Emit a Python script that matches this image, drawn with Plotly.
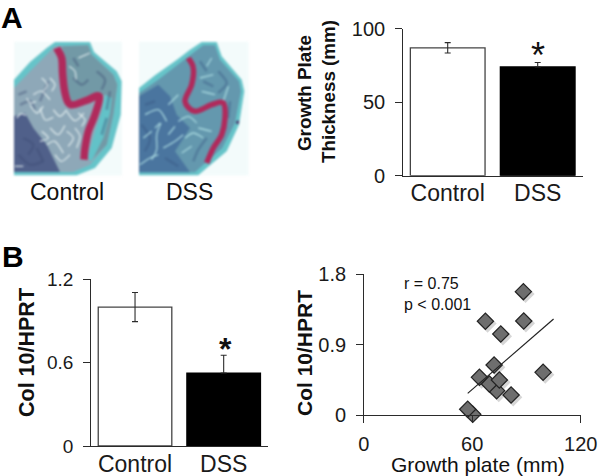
import plotly.graph_objects as go

W, H = 598, 476
FONT = "Liberation Sans"
INK = "#2b2b2b"

# ---- data ----
bar_categories = ["Control", "DSS"]
thickness_values = [87, 74]
thickness_err_up = [3.5, 3]
thickness_err_down = [3.5, 0]
thickness_ticks = [0, 50, 100]
col10_values = [1.0, 0.525]
col10_err_up = [0.105, 0.128]
col10_err_down = [0.105, 0]
col10_ticks = [0, 0.6, 1.2]
col10_ticklabels = ["0", "0.6", "1.2"]

scatter_x = [60.3, 57.5, 81.5, 73.5, 69.5, 75, 64, 72.1, 99.2, 75.8, 67.3, 88.5, 88.3]
scatter_y = [0.009, 0.073, 0.256, 0.311, 0.397, 0.448, 0.482, 0.64, 0.546, 1.036, 1.199, 1.203, 1.578]
fit_x = [57.5, 105]
fit_y = [0.277, 1.228]
scatter_x_ticks = [0, 60, 120]
scatter_y_ticks = [0, 0.9, 1.8]
scatter_y_ticklabels = ["0", "0.9", "1.8"]

# ---- histology illustration outlines (crop coordinates of each photo) ----
photo_a_outline = [(12,125),(60,72),(110,30),(135,12),(240,12),(252,42),(320,100),(335,130),(332,230),(305,330),(255,390),(200,412),(12,412)]
photo_a_inner = [(12,150),(70,90),(135,25),(235,22),(245,50),(310,110),(322,140),(310,230),(290,320),(240,380),(190,402),(12,402)]
photo_a_marrow = [(12,235),(45,225),(70,270),(110,320),(150,402),(12,402)]
photo_a_epi = [(155,25),(235,22),(245,50),(310,110),(322,140),(310,230),(290,320),(245,365),(262,260),(290,170),(230,175),(185,190),(170,150),(165,60)]
photo_a_gap = [(285,170),(305,180),(300,225),(280,300),(245,370),(232,360),(255,280),(275,220)]
photo_a_band = [(140,30),(155,60),(158,110),(165,165),(182,200),(230,187),(268,175),(255,230),(235,280),(225,330),(222,365)]
photo_a_light = [[(20,240),(32,228),(48,232)], [(15,385),(40,385)], [(178,85),(195,100),(198,125)], [(205,60),(240,45)],
                 [(90,210),(105,245),(130,238)], [(120,270),(145,290),(165,262)], [(70,170),(95,160),(120,185)],
                 [(110,320),(135,310),(160,345)], [(170,220),(195,248),(222,225)], [(60,200),(80,225),(100,205)],
                 [(130,215),(150,235),(170,215)], [(95,280),(115,300),(90,310)], [(170,280),(190,300),(175,325)],
                 [(195,270),(210,295),(200,330)], [(135,350),(155,370),(180,350)], [(50,180),(60,195),(78,190)],
                 [(120,120),(135,140),(125,160)], [(95,120),(112,140),(100,160)], [(205,225),(225,245),(215,265)]]
photo_a_dark = [[(30,200),(60,190),(75,215)], [(25,170),(50,160)], [(40,300),(70,320),(55,350)], [(25,350),(60,380),(100,370)],
                [(190,120),(215,140),(235,125)], [(260,100),(285,125),(275,155)], [(190,60),(205,85)], [(300,160),(290,215)],
                [(290,240),(275,290)], [(80,330),(100,370)], [(115,130),(90,190)]]

photo_b_outline = [(12,150),(60,112),(130,62),(165,35),(200,12),(245,12),(260,55),(320,125),(328,160),(312,260),(275,340),(215,390),(190,412),(12,412)]
photo_b_inner = [(12,165),(70,125),(135,75),(170,48),(205,22),(240,22),(255,65),(312,130),(318,160),(300,255),(262,330),(205,380),(180,403),(12,403)]
photo_b_marrow = [(12,175),(70,140),(105,175),(125,230),(165,270),(120,340),(165,403),(12,403)]
photo_b_band = [(160,60),(175,90),(170,140),(150,190),(180,220),(230,200),(265,195),(270,240),(260,290),(235,330),(215,375)]
photo_b_light = [[(50,365),(65,335),(65,290),(78,255)], [(15,380),(45,360),(70,350)], [(60,270),(75,255)],
                 [(85,330),(120,310),(145,290)], [(30,230),(70,215),(95,250)], [(195,120),(235,110)],
                 [(200,160),(240,170)], [(190,270),(230,280)], [(100,200),(130,170)], [(130,250),(160,235),(185,255)],
                 [(150,300),(175,285),(205,300)], [(100,290),(120,265)], [(230,60),(215,85)], [(280,145),(265,190)],
                 [(25,300),(50,280)], [(140,345),(170,325)]]
photo_b_dark = [[(30,200),(60,190)], [(20,260),(45,300),(30,340)], [(90,360),(130,385)], [(195,70),(215,100)],
                [(250,100),(275,135),(250,165)], [(205,130),(235,145)], [(285,190),(280,240)], [(215,300),(190,335),(175,370)]]
photo_b_spot = [(303,250),(312,247),(312,257),(304,258)]

P = 3.0
def spline(points, ox, oy, closed):
    pts = [(ox + x / P, oy + y / P) for x, y in points]
    n = len(pts)
    d = f"M {pts[0][0]:.1f},{pts[0][1]:.1f}"
    segs = n if closed else n - 1
    for i in range(segs):
        get = (lambda k: pts[k % n]) if closed else (lambda k: pts[max(0, min(n - 1, k))])
        p0, p1, p2, p3 = get(i - 1), get(i), get(i + 1), get(i + 2)
        c1 = (p1[0] + (p2[0] - p0[0]) / 6, p1[1] + (p2[1] - p0[1]) / 6)
        c2 = (p2[0] - (p3[0] - p1[0]) / 6, p2[1] - (p3[1] - p1[1]) / 6)
        d += f" C {c1[0]:.1f},{c1[1]:.1f} {c2[0]:.1f},{c2[1]:.1f} {p2[0]:.1f},{p2[1]:.1f}"
    return d + (" Z" if closed else "")

def straight(points, ox, oy):
    return "M " + " L ".join(f"{ox + x / P:.1f},{oy + y / P:.1f}" for x, y in points) + " Z"

shapes = []
def poly(points, ox, oy, fill, curved=False):
    path = spline(points, ox, oy, True) if curved else straight(points, ox, oy)
    shapes.append(dict(type="path", path=path, fillcolor=fill, line=dict(width=0), xref="x5", yref="y5", layer="below"))
def stroke(points, ox, oy, color, width):
    shapes.append(dict(type="path", path=spline(points, ox, oy, False), line=dict(color=color, width=width),
                       xref="x5", yref="y5", layer="below"))
def rect(x0, y0, x1, y1, fill):
    shapes.append(dict(type="rect", x0=x0, y0=y0, x1=x1, y1=y1, fillcolor=fill, line=dict(width=0),
                       xref="x5", yref="y5", layer="below"))

# Photo A
oxa, oya = 10, 38
rect(14.3, 41.7, 122, 175.5, "#f3fbfb")
poly(photo_a_outline, oxa, oya, "#66c4c9")
poly(photo_a_inner, oxa, oya, "#8ea8b8")
poly(photo_a_marrow, oxa, oya, "#50608a")
poly(photo_a_epi, oxa, oya, "#7299a6")
poly(photo_a_gap, oxa, oya, "#62c2c8")
for m in photo_a_dark:
    stroke(m, oxa, oya, "rgba(60,75,115,0.4)", 2.5)
for m in photo_a_light:
    stroke(m, oxa, oya, "rgba(235,245,245,0.8)", 1.3)
stroke(photo_a_band, oxa, oya, "#b02a5c", 7.5)

# Photo B
oxb, oyb = 135, 38
rect(139, 41.7, 248.5, 175.5, "#f3fbfb")
poly(photo_b_outline, oxb, oyb, "#66c4c9")
poly(photo_b_inner, oxb, oyb, "#6498ae")
poly(photo_b_marrow, oxb, oyb, "#4a759f")
for m in photo_b_dark:
    stroke(m, oxb, oyb, "rgba(55,85,130,0.4)", 2.5)
for m in photo_b_light:
    stroke(m, oxb, oyb, "rgba(180,228,232,0.85)", 1.3)
poly(photo_b_spot, oxb, oyb, "#4a3a70")
stroke(photo_b_band, oxb, oyb, "#b02a5c", 5.5)

fig = go.Figure()

def dom_x(a, b):
    return [a / W, b / W]
def dom_y(top, bottom):
    return [1 - bottom / H, 1 - top / H]

tick_font = dict(family=FONT, size=20, color="#1a1a1a")
cat_font = dict(family=FONT, size=23, color="#1a1a1a")

def add_bars(xa, ya, values, up, down):
    fig.add_trace(go.Bar(x=bar_categories, y=values, xaxis=xa, yaxis=ya, width=0.83,
                         marker=dict(color=["white", "black"], line=dict(color=["#444444", "black"], width=1.3)),
                         error_y=dict(type="data", symmetric=False, array=up, arrayminus=down, color=INK, thickness=1.1, width=3),
                         showlegend=False, hoverinfo="skip"))

add_bars("x", "y", thickness_values, thickness_err_up, thickness_err_down)
add_bars("x2", "y2", col10_values, col10_err_up, col10_err_down)

# Scatter: soft shadow, then markers, then fit line
fig.add_trace(go.Scatter(x=[v + 1.2 for v in scatter_x], y=[v - 0.03 for v in scatter_y], xaxis="x3", yaxis="y3",
                         mode="markers", cliponaxis=False,
                         marker=dict(symbol="diamond", size=14, color="rgba(0,0,0,0.16)", line=dict(width=0)),
                         showlegend=False, hoverinfo="skip"))
fig.add_trace(go.Scatter(x=scatter_x, y=scatter_y, xaxis="x3", yaxis="y3", mode="markers", cliponaxis=False,
                         marker=dict(symbol="diamond", size=12.5, color="#6e6e6e", line=dict(color="#222222", width=1.2)),
                         showlegend=False, hoverinfo="skip"))
fig.add_trace(go.Scatter(x=fit_x, y=fit_y, xaxis="x3", yaxis="y3", mode="lines",
                         line=dict(color="#222222", width=1.2), showlegend=False, hoverinfo="skip"))

# Invisible trace to anchor the pixel-space overlay axis
fig.add_trace(go.Scatter(x=[0, W], y=[0, H], xaxis="x5", yaxis="y5", mode="markers",
                         marker=dict(opacity=0), showlegend=False, hoverinfo="skip"))

line_common = dict(showline=True, linecolor=INK, linewidth=1.1, showgrid=False, zeroline=False, automargin=False)

layout = dict(
    template="none",
    width=W, height=H, margin=dict(l=0, r=0, t=0, b=0, pad=0), autosize=False,
    paper_bgcolor="white", plot_bgcolor="rgba(0,0,0,0)", bargap=0.17,
    shapes=shapes,
    xaxis=dict(domain=dom_x(402.7, 582.7), anchor="y", type="category", range=[-0.5, 1.5], ticks="",
               tickfont=cat_font, ticklabelstandoff=-3, **line_common),
    yaxis=dict(domain=dom_y(28.7, 175.7), anchor="x", range=[0, 100], tickvals=thickness_ticks, ticks="outside",
               ticklen=6.5, tickwidth=1.1, tickcolor=INK, tickfont=tick_font, ticklabelstandoff=6, **line_common),
    xaxis2=dict(domain=dom_x(90.7, 268), anchor="y2", type="category", range=[-0.5, 1.5], ticks="",
                tickfont=cat_font, ticklabelstandoff=-3, **line_common),
    yaxis2=dict(domain=dom_y(279.3, 446), anchor="x2", range=[0, 1.2], tickvals=col10_ticks, ticktext=col10_ticklabels,
                ticks="outside", ticklen=6.5, tickwidth=1.1, tickcolor=INK, tickfont=dict(family=FONT, size=19, color="#1a1a1a"),
                ticklabelstandoff=6, **line_common),
    xaxis3=dict(domain=dom_x(363.7, 580.7), anchor="y3", range=[0, 120], tickvals=scatter_x_ticks, ticks="outside",
                ticklen=6.5, tickwidth=1.1, tickcolor=INK, tickfont=tick_font, ticklabelstandoff=4, **line_common),
    yaxis3=dict(domain=dom_y(274.3, 415), anchor="x3", range=[0, 1.8], tickvals=scatter_y_ticks, ticktext=scatter_y_ticklabels,
                ticks="outside", ticklen=6.5, tickwidth=1.1, tickcolor=INK, tickfont=tick_font, ticklabelstandoff=6, **line_common),
    xaxis5=dict(domain=[0, 1], range=[0, W], visible=False, anchor="y5", fixedrange=True, automargin=False),
    yaxis5=dict(domain=[0, 1], range=[H, 0], visible=False, anchor="x5", fixedrange=True, automargin=False),
)
fig.update_layout(**layout)

def label(text, x, y, size, bold=False, angle=0, anchor="center", color="#111111"):
    body = f"<b>{text}</b>" if bold else text
    fig.add_annotation(text=body, x=x, y=y, xref="x5", yref="y5", showarrow=False, textangle=angle,
                       xanchor=anchor, yanchor="middle", align="left",
                       font=dict(family=FONT, size=size, color=color))

label("A", 12, 17, 30, bold=True, color="black")
label("B", 13, 256, 30, bold=True, color="black")
label("Control", 67, 192, 23)
label("DSS", 189, 192, 23)
label("Growth Plate", 304, 93, 18.8, bold=True, angle=-90)
label("Thickness (mm)", 328, 92, 18.8, bold=True, angle=-90)
label("Col 10/HPRT", 27, 353, 21.5, bold=True, angle=-90)
label("Col 10/HPRT", 304, 353, 21, bold=True, angle=-90)
label("*", 537.7, 55, 36)
label("*", 225.7, 349, 32, bold=True)
label("r = 0.75", 402, 283, 16, anchor="left")
label("p < 0.001", 402, 304, 16, anchor="left")
label("Growth plate (mm)", 478, 464, 21)

soften = ("document.body.style.margin='0';document.body.style.overflow='hidden';"
          "document.querySelectorAll('.shapelayer').forEach(function(g){g.style.filter='blur(1px)';});")
fig.write_html("out.html", config={"displayModeBar": False}, post_script=soften)
